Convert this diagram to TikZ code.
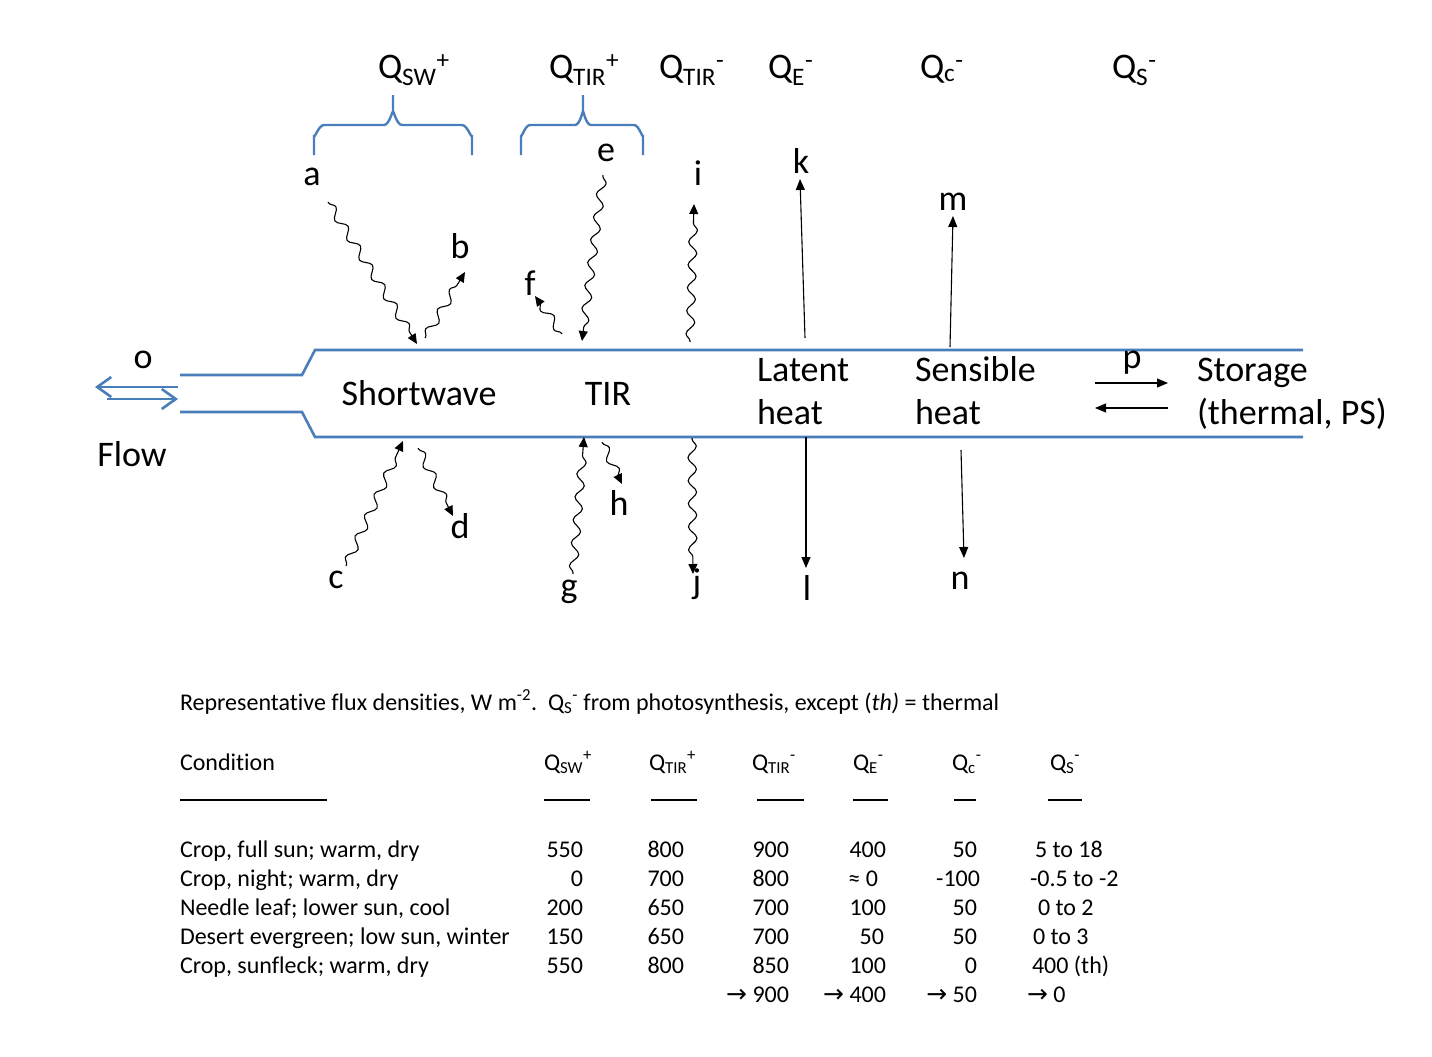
\documentclass[tikz,border=0pt]{standalone}
\usepackage{fontspec}
\setmainfont{Carlito}[Ligatures=NoCommon]
\newfontfamily\symfont{DejaVu Sans}
\usetikzlibrary{arrows.meta,decorations.pathmorphing}
\definecolor{canal}{RGB}{74,126,187}
\newcommand\LgFont{\fontsize{36}{43}\selectfont}
\newcommand\SmFont{\fontsize{24}{28}\selectfont}
\newcommand\Qlab[2]{Q\textsubscript{#1}\textsuperscript{#2}}
\newcommand\rarr{{\symfont\fontsize{25}{28}\selectfont →}}
\begin{document}
\begin{tikzpicture}[x=1pt,y=-1pt,
  every node/.style={inner sep=0pt,outer sep=0pt},
  canalline/.style={draw=canal,line width=2.6pt},
  bracel/.style={draw=canal,line width=2.4pt},
  flowarr/.style={draw=canal,line width=2.6pt,-{Straight Barb[length=14pt,width=20pt]}},
  wave/.style={decorate,decoration={snake,amplitude=4.2pt,segment length=23pt,pre length=1pt,post length=8pt},line width=1.1pt,-{Triangle[length=10pt,width=9pt]}},
  straightarr/.style={line width=1.1pt,-{Triangle[length=11pt,width=9pt]}},
  lbl/.style={font=\LgFont,anchor=base},
  lblw/.style={font=\LgFont,anchor=base west},
  tbl/.style={font=\SmFont,anchor=base west},
  num/.style={font=\SmFont,anchor=base east},
  tblrule/.style={line width=1.8pt}]
\useasboundingbox (0,0) rectangle (1432,1057);

% top flux labels
\node[lblw] (qsw) at (378,78) {\Qlab{SW}{+}};
\node[lblw] (qtirp) at (549,78) {\Qlab{TIR}{+}};
\node[lblw] (qtirm) at (659,78) {\Qlab{TIR}{-}};
\node[lblw] (qe) at (768,78) {\Qlab{E}{-}};
\node[lblw] (qc) at (920,78) {\Qlab{c}{-}};
\node[lblw] (qs) at (1112,78) {\Qlab{S}{-}};

% braces
\draw[bracel] (314,155) -- (314,135) to[out=-90,in=180] (324,125) -- (384,125)
  to[out=0,in=90] (393,113) -- (393,95);
\draw[bracel] (393,113) to[out=90,in=180] (402,125) -- (462,125) to[out=0,in=-90] (472,135) -- (472,155);
\draw[bracel] (521,155) -- (521,135) to[out=-90,in=180] (530,125) -- (575,125)
  to[out=0,in=90] (583,113) -- (583,95);
\draw[bracel] (583,113) to[out=90,in=180] (591,125) -- (634,125) to[out=0,in=-90] (643,135) -- (643,155);

% canal
\draw[canalline] (180,375) -- (302,375) -- (315,350) -- (1303,350);
\draw[canalline] (180,412) -- (302,412) -- (315,437) -- (1303,437);

% flow
\coordinate (fl1) at (178,387);
\coordinate (fl2) at (95,387);
\coordinate (fr1) at (107,399);
\coordinate (fr2) at (178,399);
\draw[flowarr] (fl1) -- (fl2);
\draw[flowarr] (fr1) -- (fr2);
\node[lbl] (lo) at (143,368) {o};
\node[lbl] (flow) at (132,466) {Flow};

% compartment texts
\node[lbl] (sw) at (419,405) {Shortwave};
\node[lbl] (tir) at (608,405) {TIR};
\node[lblw] (lat1) at (757,381) {Latent};
\node[lblw] (lat2) at (757,424) {heat};
\node[lblw] (sen1) at (915,381) {Sensible};
\node[lblw] (sen2) at (915,424) {heat};
\node[lblw] (sto1) at (1197,381) {Storage};
\node[lblw] (sto2) at (1197,424) {(thermal, PS)};

% letters
\node[lbl] (la) at (312,185) {a};
\node[lbl] (lb) at (460,258) {b};
\node[lbl] (lc) at (336,588) {c};
\node[lbl] (ld) at (460,538) {d};
\node[lbl] (le) at (606,161) {e};
\node[lbl] (lf) at (530,295) {f};
\node[lbl] (lg) at (569,597) {g};
\node[lbl] (lh) at (619,515) {h};
\node[lbl] (li) at (698,185) {i};
\node[lbl] (lj) at (697,593) {j};
\node[lbl] (lk) at (801,173) {k};
\node[lbl] (ll) at (807,600) {l};
\node[lbl] (lm) at (953,210) {m};
\node[lbl] (ln) at (960,589) {n};
\node[lbl] (lp) at (1132,368) {p};

% wavy arrow end points
\coordinate (a1) at (328,202); \coordinate (a2) at (417,344);
\coordinate (b1) at (425,338); \coordinate (b2) at (465,272);
\coordinate (e1) at (603,175); \coordinate (e2) at (582,341);
\coordinate (f1) at (562,334); \coordinate (f2) at (535,296);
\coordinate (i1) at (690,342); \coordinate (i2) at (694,204);
\coordinate (c1) at (346,566); \coordinate (c2) at (403,441);
\coordinate (d1) at (418,448); \coordinate (d2) at (453,516);
\coordinate (g1) at (573,574); \coordinate (g2) at (584,437);
\coordinate (h1) at (602,442); \coordinate (h2) at (622,484);
\coordinate (j1) at (692,438); \coordinate (j2) at (693,574);
\draw[wave] (a1) -- (a2);
\draw[wave] (b1) -- (b2);
\draw[wave] (e1) -- (e2);
\draw[wave] (f1) -- (f2);
\draw[wave] (i1) -- (i2);
\draw[wave] (c1) -- (c2);
\draw[wave] (d1) -- (d2);
\draw[wave] (g1) -- (g2);
\draw[wave] (h1) -- (h2);
\draw[wave] (j1) -- (j2);

% straight arrows
\coordinate (k1) at (805,338); \coordinate (k2) at (800,179);
\coordinate (m1) at (950,347); \coordinate (m2) at (953,216);
\coordinate (l1) at (806,437); \coordinate (l2) at (806,568);
\coordinate (n1) at (961,450); \coordinate (n2) at (964,558);
\coordinate (p1) at (1095,383); \coordinate (p2) at (1168,383);
\coordinate (q1) at (1168,408); \coordinate (q2) at (1095,408);
\draw[straightarr] (k1) -- (k2);
\draw[straightarr] (m1) -- (m2);
\draw[straightarr] (l1) -- (l2);
\draw[straightarr] (n1) -- (n2);
\draw[straightarr] (p1) -- (p2);
\draw[straightarr] (q1) -- (q2);

% table
\node[tbl] (title) at (180,710) {Representative flux densities, W m\textsuperscript{-2}.\ \ \Qlab{S}{-} from photosynthesis, except (\textit{th)} = thermal};
\node[tbl] (hcond) at (180,770) {Condition};
\node[tbl] (hsw) at (544,770) {\Qlab{SW}{+}};
\node[tbl] (htirp) at (649,770) {\Qlab{TIR}{+}};
\node[tbl] (htirm) at (752,770) {\Qlab{TIR}{-}};
\node[tbl] (he) at (853,770) {\Qlab{E}{-}};
\node[tbl] (hc) at (952,770) {\Qlab{c}{-}};
\node[tbl] (hs) at (1050,770) {\Qlab{S}{-}};
\draw[tblrule] (180,800) -- (327,800);
\draw[tblrule] (544,800) -- (590,800);
\draw[tblrule] (651,800) -- (697,800);
\draw[tblrule] (757,800) -- (804,800);
\draw[tblrule] (853,800) -- (888,800);
\draw[tblrule] (954,800) -- (976,800);
\draw[tblrule] (1048,800) -- (1082,800);

% row 1
\node[tbl] (r1a) at (180,857) {Crop, full sun; warm, dry};
\node[num] (r1b) at (583,857) {550};
\node[num] (r1c) at (684,857) {800};
\node[num] (r1d) at (789,857) {900};
\node[num] (r1e) at (886,857) {400};
\node[num] (r1f) at (977,857) {50};
\node[tbl] (r1g) at (1035,857) {5 to 18};
% row 2
\node[tbl] (r2a) at (180,886) {Crop, night; warm, dry};
\node[num] (r2b) at (583,886) {0};
\node[num] (r2c) at (684,886) {700};
\node[num] (r2d) at (789,886) {800};
\node[num] (r2e) at (878,886) {≈ 0};
\node[num] (r2f) at (980,886) {-100};
\node[tbl] (r2g) at (1030,886) {-0.5 to -2};
% row 3
\node[tbl] (r3a) at (180,915) {Needle leaf; lower sun, cool};
\node[num] (r3b) at (583,915) {200};
\node[num] (r3c) at (684,915) {650};
\node[num] (r3d) at (789,915) {700};
\node[num] (r3e) at (886,915) {100};
\node[num] (r3f) at (977,915) {50};
\node[tbl] (r3g) at (1038,915) {0 to 2};
% row 4
\node[tbl] (r4a) at (180,944) {Desert evergreen; low sun, winter};
\node[num] (r4b) at (583,944) {150};
\node[num] (r4c) at (684,944) {650};
\node[num] (r4d) at (789,944) {700};
\node[num] (r4e) at (884,944) {50};
\node[num] (r4f) at (977,944) {50};
\node[tbl] (r4g) at (1033,944) {0 to 3};
% row 5
\node[tbl] (r5a) at (180,973) {Crop, sunfleck; warm, dry};
\node[num] (r5b) at (583,973) {550};
\node[num] (r5c) at (684,973) {800};
\node[num] (r5d) at (789,973) {850};
\node[num] (r5e) at (886,973) {100};
\node[num] (r5f) at (977,973) {0};
\node[tbl] (r5g) at (1032,973) {400 (th)};
% row 6
\node[num] (r6d) at (789,1002) {\rarr\ 900};
\node[num] (r6e) at (886,1002) {\rarr\ 400};
\node[num] (r6f) at (977,1002) {\rarr\ 50};
\node[tbl] (r6g) at (1027,1002) {\rarr\ 0};
\end{tikzpicture}
\end{document}
